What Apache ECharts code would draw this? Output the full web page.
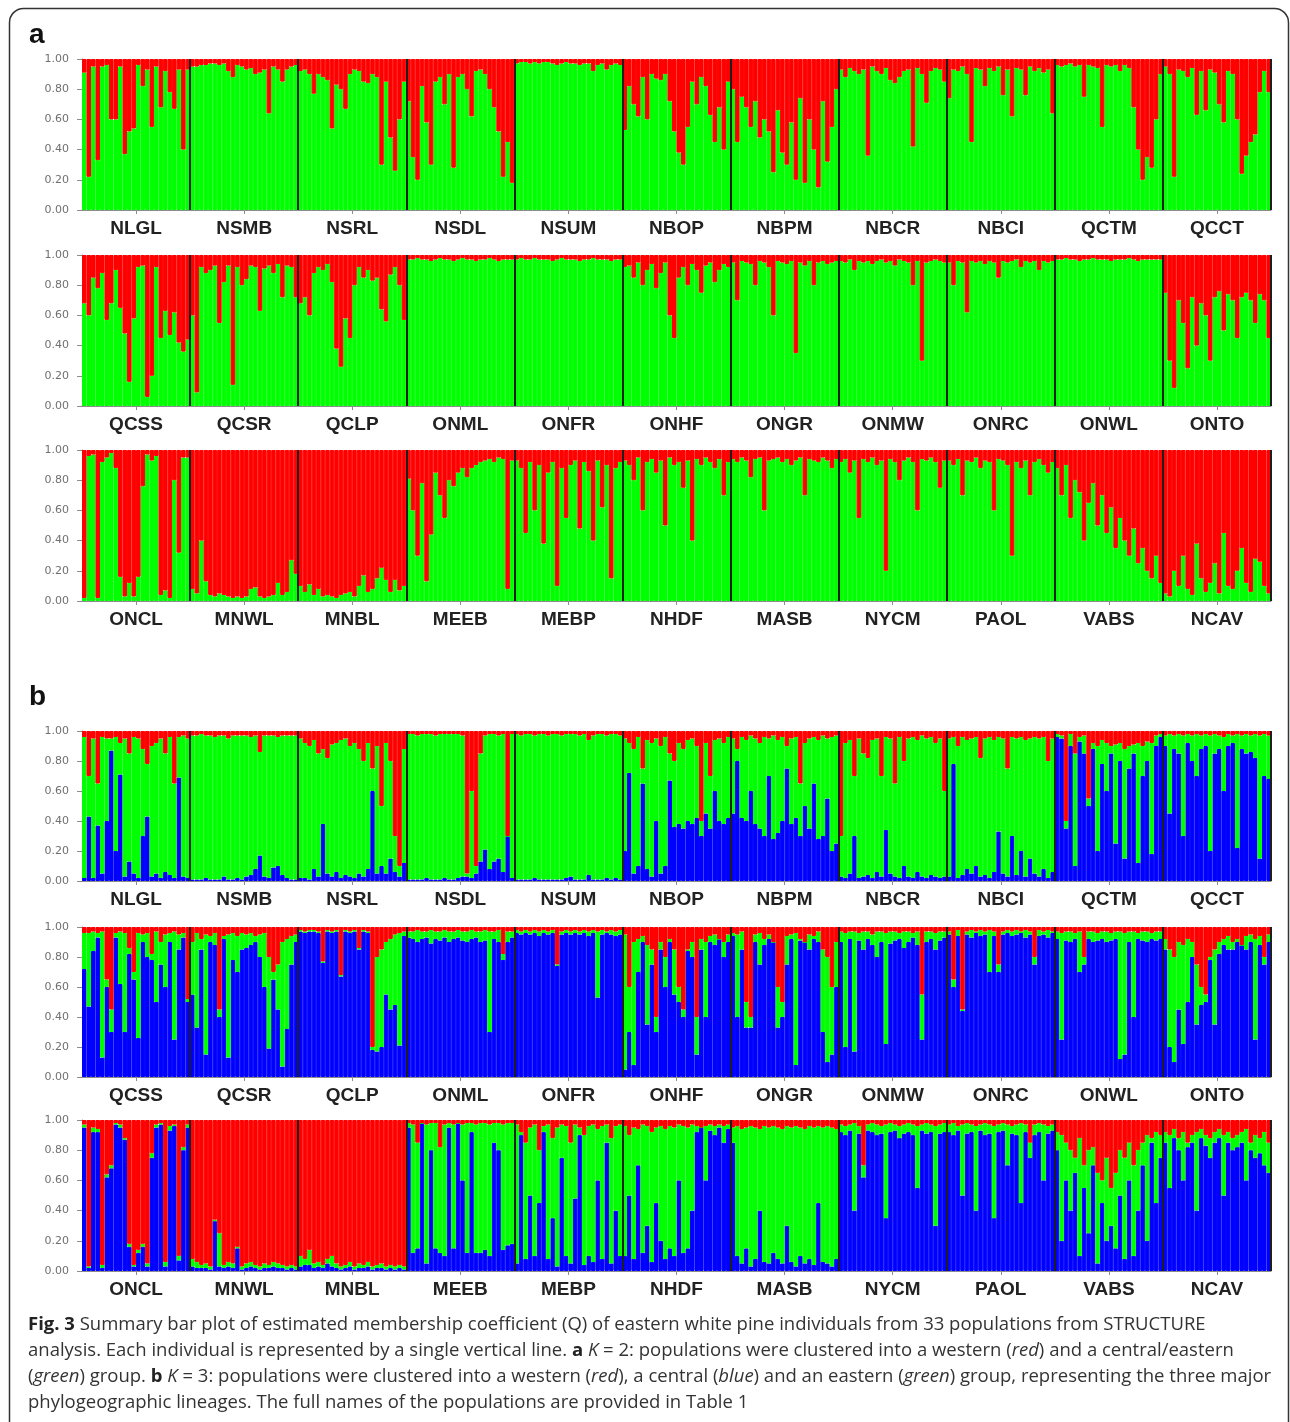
<!DOCTYPE html>
<html><head><meta charset="utf-8">
<script src="https://cdn.jsdelivr.net/npm/echarts@6/dist/echarts.min.js"></script>
<style>html,body{margin:0;padding:0;background:#fff}#c{width:1290px;height:1422px}</style>
</head><body><div id="c"></div>
<script>
// ---------------- DATA ----------------
const POPS = ['NLGL','NSMB','NSRL','NSDL','NSUM','NBOP','NBPM','NBCR','NBCI','QCTM','QCCT',
              'QCSS','QCSR','QCLP','ONML','ONFR','ONHF','ONGR','ONMW','ONRC','ONWL','ONTO',
              'ONCL','MNWL','MNBL','MEEB','MEBP','NHDF','MASB','NYCM','PAOL','VABS','NCAV'];
const Y_TICK_LABELS = ['0.00','0.20','0.40','0.60','0.80','1.00'];

// K = 2 : membership (%) in the central/eastern (green) cluster; the rest is western (red)
const K2_GREEN = [
 [91,22,95,33,95,96,60,60,95,37,52,54,96,82,93,55,95,68,92,78,67,93,40,93], // NLGL
 [95,95,96,96,97,97,96,97,92,88,96,95,93,94,90,91,93,64,95,93,85,93,95,96], // NSMB
 [92,93,90,77,90,88,86,54,83,80,67,90,93,92,85,84,90,88,30,85,48,26,60,85], // NSRL
 [72,35,20,82,58,30,85,88,70,90,28,88,90,80,62,92,93,90,80,68,52,22,45,18], // NSDL
 [97,98,98,97,98,97,98,98,97,96,97,98,97,97,96,97,97,92,96,97,93,96,97,96], // NSUM
 [53,82,70,62,88,60,90,87,86,90,72,52,38,30,55,85,70,88,82,63,45,68,40,85], // NBOP
 [80,45,75,68,55,72,48,60,52,25,66,38,30,58,20,74,18,60,40,15,72,32,55,80], // NBPM
 [93,88,94,92,90,93,36,95,92,90,94,86,84,88,92,93,42,94,90,71,92,94,93,85], // NBCR
 [74,93,92,95,90,45,94,93,82,94,92,95,76,93,62,94,93,76,95,92,94,91,93,64], // NBCI
 [96,95,96,97,95,96,75,96,95,94,55,96,95,96,92,96,94,68,40,20,35,28,60,90], // QCTM
 [95,90,22,93,92,88,94,63,92,66,93,91,70,58,92,90,60,24,36,45,50,78,92,78], // QCCT
 [68,60,85,78,88,57,68,90,65,48,16,58,92,93,6,20,92,45,63,47,62,42,36,44],  // QCSS
 [60,9,92,88,90,93,55,82,93,14,92,80,84,93,92,63,91,93,88,94,72,93,92,72],  // QCSR
 [68,72,60,88,92,90,94,82,38,26,58,45,80,92,85,90,83,85,64,56,87,92,80,57], // QCLP
 [97,97,98,97,97,96,97,98,97,97,96,97,98,97,97,96,97,97,98,97,96,97,97,97], // ONML
 [97,98,97,97,98,97,97,97,96,97,98,97,97,97,96,97,97,98,97,97,97,96,97,97], // ONFR
 [92,93,85,95,80,90,94,78,88,95,60,45,85,92,80,94,90,75,93,95,82,90,94,92], // ONHF
 [95,70,96,95,94,80,96,95,92,60,96,95,94,96,35,95,93,96,80,95,96,94,95,96], // ONGR
 [96,95,97,90,96,95,96,94,96,97,95,96,93,97,96,95,80,96,30,95,96,97,96,95], // ONMW
 [95,80,96,95,62,96,95,96,94,96,95,85,96,95,96,97,92,96,95,96,90,96,95,96], // ONRC
 [97,97,98,97,97,96,97,97,98,97,97,97,96,97,97,97,98,97,96,97,97,97,97,97], // ONWL
 [75,30,12,70,55,25,72,40,68,60,30,72,76,50,74,70,45,72,75,70,55,74,70,45], // ONTO
 [2,96,97,2,92,95,98,88,16,3,12,3,16,76,97,93,96,4,7,2,80,32,95,95],        // ONCL
 [8,5,40,13,4,3,5,4,3,2,3,2,3,8,9,3,2,3,4,12,4,6,27,18],                    // MNWL
 [10,6,11,4,8,3,4,3,2,4,5,6,3,10,17,6,8,15,22,14,6,14,7,10],                // MNBL
 [81,60,30,78,13,44,85,70,55,80,76,85,88,82,88,90,92,93,94,92,95,94,8,93],  // MEEB
 [93,88,45,92,60,90,38,85,92,10,88,55,90,93,48,92,86,40,93,62,90,15,88,92], // MEBP
 [93,90,80,95,60,92,94,85,93,50,95,90,92,75,93,40,94,90,95,92,88,94,70,92], // NHDF
 [94,92,95,93,82,94,95,60,93,94,95,92,94,90,93,95,70,94,93,92,95,93,88,94], // MASB
 [92,94,85,93,55,94,92,95,90,93,20,94,92,80,93,95,92,60,94,93,95,92,75,93], // NYCM
 [93,90,94,70,93,92,95,88,93,92,60,94,93,90,30,92,88,93,70,92,94,90,85,92], // PAOL
 [88,70,90,55,80,72,40,65,78,50,70,45,62,35,55,40,30,48,25,35,20,15,30,12], // VABS
 [5,3,20,10,30,8,4,38,15,6,12,25,5,45,10,8,20,35,12,6,28,26,10,5]          // NCAV
];

// K = 3 : western (red) and central (blue) membership (%); the rest is eastern (green)
const K3_RED = [
 [4,30,5,35,4,5,5,4,8,5,15,4,5,12,22,10,8,5,15,4,35,4,3,5],
 [3,3,2,3,3,4,3,3,5,3,3,3,3,4,3,14,3,3,3,4,3,3,3,3],
 [5,8,10,6,15,12,18,9,8,6,5,10,8,12,20,8,25,10,50,8,20,70,90,12],
 [2,2,3,2,2,2,3,2,2,2,2,2,3,95,40,90,15,3,2,2,3,2,70,2],
 [2,3,2,2,3,2,2,3,2,2,3,2,2,2,3,2,6,3,2,2,3,2,2,3],
 [5,8,12,4,25,6,8,5,10,4,15,20,8,12,6,5,10,60,8,30,6,5,8,4],
 [5,12,4,6,3,5,8,4,5,3,6,4,10,5,4,35,8,5,4,6,3,5,4,3],
 [70,8,6,30,5,15,18,6,5,30,4,5,35,4,20,5,4,6,3,5,4,8,5,40],
 [5,4,10,4,6,5,4,18,5,4,6,4,5,25,4,5,4,6,5,4,5,4,20,5],
 [2,3,60,2,15,4,3,45,8,10,6,8,10,9,8,12,10,9,8,10,7,8,3,2],
 [3,2,3,2,3,2,3,2,3,2,3,2,3,4,2,3,2,3,2,3,2,3,2,3],
 [4,4,3,4,3,35,55,4,3,4,14,30,4,5,4,18,3,10,5,4,3,5,4,48],
 [10,4,8,5,6,4,55,6,5,4,6,4,5,4,6,5,4,20,30,25,10,8,6,5],
 [2,3,2,2,3,23,2,3,2,32,2,3,2,14,2,3,80,20,15,10,8,5,4,3],
 [3,3,2,3,3,2,3,3,2,3,3,2,3,3,2,3,3,2,3,3,2,18,3,3],
 [2,3,2,3,2,3,2,3,2,25,3,2,3,2,3,2,3,2,3,2,3,2,3,2],
 [5,40,10,8,6,12,15,60,10,20,8,15,40,55,15,10,60,8,10,6,5,8,10,5],
 [4,5,3,50,60,5,4,8,5,10,40,50,6,5,4,8,10,5,6,3,15,20,40,10],
 [3,4,3,3,4,3,3,5,3,3,4,3,3,4,3,3,4,3,45,3,3,4,3,3],
 [3,35,2,55,3,2,3,2,3,2,3,25,3,2,3,2,3,2,3,20,2,3,2,3],
 [3,4,3,3,4,3,20,3,3,4,3,3,4,3,3,4,3,3,4,3,3,4,3,3],
 [8,15,20,10,12,8,10,25,40,45,20,15,10,8,6,10,8,12,6,5,8,6,20,5],
 [3,97,5,6,96,36,30,2,3,12,82,96,86,82,95,22,3,2,94,4,3,90,18,3],
 [92,94,96,95,97,66,75,96,94,95,84,97,95,94,96,97,95,96,94,95,96,97,96,97],
 [90,92,86,95,94,96,92,90,95,97,96,94,97,95,96,94,97,96,95,97,96,97,96,97],
 [2,3,15,2,3,2,2,18,3,2,3,2,3,2,2,3,2,2,3,2,2,3,2,2],
 [3,8,15,5,3,20,4,3,12,5,3,4,15,3,5,10,4,3,6,4,3,12,4,3],
 [4,10,5,6,3,4,8,5,4,6,4,5,3,4,5,3,4,5,4,3,4,3,4,3],
 [5,4,6,5,4,5,6,4,5,4,5,6,4,5,4,5,6,4,5,4,5,4,5,6],
 [3,4,3,2,4,30,3,2,3,4,3,2,3,4,3,2,3,4,3,2,3,4,3,2],
 [3,2,4,3,2,3,4,3,2,3,4,3,2,3,4,3,2,3,15,3,2,3,4,3],
 [8,10,15,20,25,12,30,20,18,35,40,25,45,35,20,25,15,30,20,15,10,12,8,10],
 [8,10,6,12,8,15,10,8,6,10,12,8,6,10,8,12,10,8,6,15,10,12,8,15]
];
const K3_BLUE = [
 [2,43,2,37,5,40,87,20,71,3,13,5,2,30,43,3,5,2,6,4,2,69,3,2],
 [1,1,1,2,1,1,1,3,1,1,2,1,3,4,8,17,3,2,9,10,4,2,1,1],
 [2,2,1,8,3,38,5,3,6,2,4,3,2,5,3,8,60,5,10,5,15,6,3,12],
 [1,1,1,1,2,1,1,1,2,1,1,2,3,3,2,5,13,21,8,13,15,6,30,2],
 [1,1,1,1,2,1,1,1,1,1,1,2,3,1,1,1,4,1,1,1,2,1,2,1],
 [20,72,5,10,65,8,3,40,5,10,67,36,38,35,40,38,42,30,45,35,60,40,38,42],
 [45,80,42,40,60,38,35,30,70,28,32,40,75,38,42,30,50,35,65,28,30,55,20,25],
 [3,2,5,30,2,3,4,2,6,3,34,5,3,2,10,3,2,6,3,2,4,3,2,3],
 [3,78,2,4,8,5,10,3,4,2,6,33,5,3,30,4,20,3,15,5,3,8,2,6],
 [96,95,35,90,10,93,85,50,88,20,78,60,85,25,80,15,75,85,12,70,80,18,90,96],
 [90,45,88,85,30,92,80,70,88,90,20,85,88,60,90,92,22,88,85,86,82,15,70,68],
 [72,47,84,93,13,60,30,93,62,30,82,65,26,90,80,78,50,75,60,90,25,85,93,50],
 [55,33,85,15,90,88,40,92,13,78,70,85,86,88,90,80,60,19,65,45,7,32,75,90],
 [97,96,97,97,96,76,97,96,97,67,97,96,97,85,97,96,18,17,20,55,45,48,21,94],
 [93,92,90,92,93,89,92,91,93,90,92,93,91,90,92,93,90,91,30,92,90,78,90,93],
 [96,95,96,95,96,94,96,95,96,74,95,96,95,96,95,96,94,96,53,95,96,95,94,95],
 [5,30,8,70,90,35,75,30,85,60,90,55,50,40,84,80,15,85,40,90,88,92,80,90],
 [94,40,85,33,33,90,75,88,92,90,33,40,75,92,8,91,90,85,92,90,30,10,15,60],
 [90,20,92,17,91,85,92,88,80,90,22,89,91,92,86,90,93,88,25,90,92,85,91,93],
 [95,60,94,44,95,93,96,94,95,70,94,70,95,96,94,95,96,93,95,75,94,95,93,96],
 [92,25,91,90,92,70,75,92,90,91,92,90,91,92,12,15,90,40,92,91,90,92,91,92],
 [85,20,10,45,22,50,80,35,48,50,78,35,82,88,85,85,90,88,85,90,25,88,75,90],
 [95,2,92,92,2,62,68,97,95,87,16,3,12,16,3,75,95,97,3,93,96,7,80,95],
 [3,2,2,2,1,33,3,2,3,2,15,1,2,3,2,1,2,2,3,2,2,1,2,1],
 [3,4,4,2,3,2,5,3,2,1,2,3,1,2,2,3,1,2,2,1,2,1,2,1],
 [95,12,15,98,5,80,15,12,10,95,15,98,60,12,92,12,12,14,10,85,80,14,17,18],
 [5,90,8,50,10,45,92,8,35,3,75,10,5,48,90,4,10,6,60,8,85,5,40,10],
 [10,50,8,70,12,30,6,45,20,8,15,10,60,12,15,40,92,95,60,93,90,95,85,94],
 [85,10,5,15,3,8,40,6,5,12,8,5,30,6,3,10,5,8,4,45,6,5,3,8],
 [92,90,93,40,91,62,93,92,90,91,35,92,93,88,91,92,90,55,93,91,92,30,91,92],
 [92,90,93,50,91,92,40,93,90,91,35,92,93,70,91,90,45,92,75,90,92,60,91,93],
 [80,20,60,40,65,10,55,25,70,5,45,20,30,15,50,8,60,10,40,70,20,85,45,75],
 [85,55,88,80,60,82,85,40,88,83,75,85,88,50,85,80,82,85,60,80,75,78,70,65]
];

// ---------------- LAYOUT ----------------
const RED = '#ff0000', GREEN = '#00ff00', BLUE = '#0000ff';
const PER_ROW = 11;
const PANELS = [
  {k:2, row:0, top:59,   height:151},
  {k:2, row:1, top:255,  height:151},
  {k:2, row:2, top:450,  height:151},
  {k:3, row:0, top:731,  height:150},
  {k:3, row:1, top:927,  height:150},
  {k:3, row:2, top:1120, height:151}
];
const GRID_LEFT = 82, GRID_WIDTH = 1189;
const AXIS_GREY = '#8c8c8c';

const grid = [], xAxis = [], yAxis = [], series = [];
function bar(xi, yi, stack, color, data) {
  return {type:'bar', xAxisIndex:xi, yAxisIndex:yi, stack, data,
    barCategoryGap:'0%', barGap:'0%', silent:true, animation:false,
    itemStyle:{color, borderColor:color, borderWidth:1},
    emphasis:{disabled:true}};
}
PANELS.forEach((p, gi) => {
  const idx = Array.from({length:PER_ROW}, (_, i) => p.row * PER_ROW + i);
  const names = idx.map(i => POPS[i]);
  const cats = [];
  idx.forEach(pi => K2_GREEN[pi].forEach((_, j) => cats.push(POPS[pi] + '-' + (j + 1))));
  grid.push({left:GRID_LEFT, top:p.top, width:GRID_WIDTH, height:p.height,
             containLabel:false, outerBoundsMode:'none'});
  xAxis.push({type:'category', gridIndex:gi, data:cats, position:'bottom', show:false});
  xAxis.push({type:'category', gridIndex:gi, data:names, position:'bottom', z:10,
    axisLine:{show:true, lineStyle:{color:AXIS_GREY, width:1}},
    axisTick:{show:true, alignWithLabel:true, length:4, lineStyle:{color:AXIS_GREY}},
    axisLabel:{show:true, interval:0, margin:9, fontSize:19, fontWeight:'bold',
               fontFamily:'"Liberation Sans", Arial, sans-serif', color:'#222'},
    splitLine:{show:true, interval:(i) => i > 0, lineStyle:{color:'#1e1e1e', width:2}}});
  yAxis.push({type:'value', gridIndex:gi, min:0, max:100, interval:20,
    axisLine:{show:true, lineStyle:{color:AXIS_GREY}},
    axisTick:{show:true, length:5, lineStyle:{color:AXIS_GREY}},
    axisLabel:{margin:13, fontSize:11, color:'#707070', fontFamily:'"DejaVu Sans", sans-serif',
               formatter:(v) => Y_TICK_LABELS[Math.round(v / 20)]},
    splitLine:{show:false}});
  const xi = gi * 2, yi = gi, st = 'p' + gi;
  if (p.k === 2) {
    const g = idx.flatMap(pi => K2_GREEN[pi]);
    series.push(bar(xi, yi, st, GREEN, g));
    series.push(bar(xi, yi, st, RED, g.map(v => 100 - v)));
  } else {
    const r = idx.flatMap(pi => K3_RED[pi]);
    const b = idx.flatMap(pi => K3_BLUE[pi]);
    series.push(bar(xi, yi, st, BLUE, b));
    series.push(bar(xi, yi, st, GREEN, b.map((v, i) => 100 - v - r[i])));
    series.push(bar(xi, yi, st, RED, r));
  }
});

const CAP_FONT = '"Open Sans", "Noto Sans", sans-serif';
const CAP_SIZE = 18.5;
const rich = {
  b:{fontWeight:'bold', fontSize:CAP_SIZE, fontFamily:CAP_FONT, fill:'#222'},
  i:{fontStyle:'italic', fontSize:CAP_SIZE, fontFamily:CAP_FONT, fill:'#333'}
};
const CAPTION = [
  '{b|Fig. 3} Summary bar plot of estimated membership coefficient (Q) of eastern white pine individuals from 33 populations from STRUCTURE',
  'analysis. Each individual is represented by a single vertical line. {b|a} {i|K} = 2: populations were clustered into a western ({i|red}) and a central/eastern',
  '({i|green}) group. {b|b} {i|K} = 3: populations were clustered into a western ({i|red}), a central ({i|blue}) and an eastern ({i|green}) group, representing the three major',
  'phylogeographic lineages. The full names of the populations are provided in Table 1'
];
const graphic = [
  {type:'rect', shape:{x:9.5, y:8.5, width:1279, height:1440, r:14}, silent:true,
   style:{fill:'none', stroke:'#333', lineWidth:1.5}},
  {type:'text', x:29, y:35, silent:true,
   style:{text:'a', fontSize:28, fontWeight:'bold', fontFamily:'"Liberation Sans", Arial', fill:'#111', verticalAlign:'middle'}},
  {type:'text', x:29, y:697, silent:true,
   style:{text:'b', fontSize:28, fontWeight:'bold', fontFamily:'"Liberation Sans", Arial', fill:'#111', verticalAlign:'middle'}}
];
CAPTION.forEach((t, i) => graphic.push({type:'text', x:28, y:1325 + i * 26, silent:true,
  style:{text:t, fontSize:CAP_SIZE, fontFamily:CAP_FONT, fill:'#333', verticalAlign:'middle', rich}}));

const chart = echarts.init(document.getElementById('c'), null, {renderer:'canvas'});
chart.setOption({animation:false, backgroundColor:'#fff', grid, xAxis, yAxis, series, graphic});
</script></body></html>
